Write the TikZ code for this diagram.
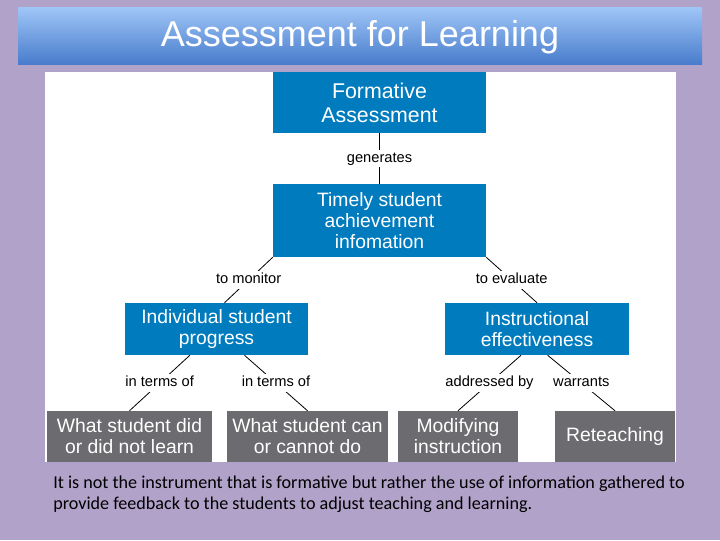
\documentclass[tikz,border=0pt]{standalone}
\usepackage{fontspec}
\setmainfont{Liberation Sans}
\newfontfamily\notefont{Carlito}
\definecolor{slidePurple}{RGB}{177,162,201}
\definecolor{conceptBlue}{RGB}{0,124,190}
\definecolor{conceptGray}{RGB}{108,108,112}
\definecolor{titleTop}{RGB}{160,198,247}
\definecolor{titleBottom}{RGB}{72,124,204}
\tikzstyle{blueBox}=[fill=conceptBlue, text=white, align=center, inner sep=0pt, font=\fontsize{14.5}{15.75}\selectfont]
\tikzstyle{grayBox}=[fill=conceptGray, text=white, align=center, inner sep=0pt, font=\fontsize{14.5}{15.75}\selectfont, minimum height=38.25pt]
\tikzstyle{linkLabel}=[fill=white, inner sep=1.5pt, text height=8pt, text depth=2.2pt, font=\fontsize{11}{13}\selectfont]
\tikzstyle{link}=[black, line width=0.6pt]

\begin{document}
\begin{tikzpicture}[x=0.75pt, y=-0.75pt]
	% slide background
	\fill[slidePurple] (0, 0) rectangle (720, 540);
	\shade[top color=titleTop, bottom color=titleBottom] (18, 7) rectangle (702, 64);
	\node[text=white, font=\fontsize{27}{30}\selectfont] (title) at (360, 37) {Assessment for Learning};
	\fill[white] (45, 72) rectangle (676, 462);
	
	\node[blueBox, minimum width=159.75pt, minimum height=45.75pt, font=\fontsize{16}{18}\selectfont] (fa) at (379.5, 102.5) {Formative\\Assessment};
	\node[blueBox, minimum width=159.75pt, minimum height=54.75pt] (tsa) at (379.5, 220.5) {Timely student\\achievement\\infomation};
	
	\node[blueBox, minimum width=137.25pt, minimum height=39pt] (isp) at (216.5, 329) {Individual student\\progress};
	\node[blueBox, minimum width=138pt, minimum height=39pt] (ie) at (537, 329) {Instructional\\effectiveness};
	
	\node[grayBox, minimum width=123.75pt] (b1) at (129.5, 436.5) {What student did\\or did not learn};
	\node[grayBox, minimum width=120.75pt] (b2) at (307.5, 436.5) {What student can\\or cannot do};
	\node[grayBox, minimum width=90pt] (b3) at (458, 436.5) {Modifying\\instruction};
	\node[grayBox, minimum width=90pt] (b4) at (615, 436.5) {Reteaching};
	
	\draw[link] (fa.south) -- node[linkLabel] {generates} (tsa.north);
	\draw[link] (tsa.south west) -- node[linkLabel] {to monitor} ([xshift=6pt]isp.north);
	\draw[link] (tsa.south east) -- node[linkLabel] {to evaluate} (ie.north);
	
	\draw[link] ([xshift=-20pt]isp.south) -- node[linkLabel] {in terms of} (b1.north);
	\draw[link] ([xshift=21pt]isp.south) -- node[linkLabel] {in terms of} (b2.north);
	\draw[link] ([xshift=-12pt]ie.south) -- node[linkLabel] {addressed by} (b3.north);
	\draw[link] ([xshift=8pt]ie.south) -- node[linkLabel] {warrants} (b4.north);
	
	\node[anchor=north west, align=left, inner sep=0pt, font=\notefont\fontsize{13.6}{15.75}\selectfont] (note) at (53, 476) {It is not the instrument that is formative but rather the use of information gathered to\\provide feedback to the students to adjust teaching and learning.};
\end{tikzpicture}
\end{document}
